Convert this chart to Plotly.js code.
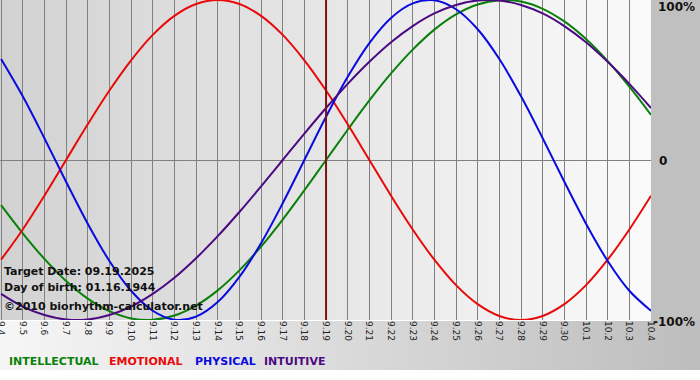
<!DOCTYPE html>
<html>
<head>
<meta charset="utf-8">
<script src="https://cdn.plot.ly/plotly-3.0.1.min.js"></script>
<style>
  html, body { margin: 0; padding: 0; background: #ffffff; }
  #chart {
    width: 700px; height: 380px;
    background:
      linear-gradient(to right, #d2d2d2, #fafafa) 0 0 / 651px 320px no-repeat,
      linear-gradient(#c0c0c0, #c0c0c0) 651px 0 / 49px 321px no-repeat,
      linear-gradient(to right, #f6f6f6, #bdbdbd) 0 321px / 700px 49px no-repeat,
      #ffffff;
  }
</style>
</head>
<body>
<div id="chart"></div>
<script>
// Day labels (month.day)
const dayLabels = ["9.4","9.5","9.6","9.7","9.8","9.9","9.10","9.11","9.12","9.13","9.14","9.15","9.16","9.17","9.18","9.19","9.20","9.21","9.22","9.23","9.24","9.25","9.26","9.27","9.28","9.29","9.30","10.1","10.2","10.3","10.4"];
const targetLabel = "9.19";

// Cycle values (fraction of 100%) read per day
const intellectual = [-0.282,-0.458,-0.618,-0.756,-0.866,-0.945,-0.990,-0.999,-0.972,-0.910,-0.815,-0.690,-0.541,-0.372,-0.189,0,0.189,0.372,0.541,0.690,0.815,0.910,0.972,0.999,0.990,0.945,0.866,0.756,0.618,0.458,0.282];
const emotional    = [-0.623,-0.434,-0.223,0,0.223,0.434,0.623,0.782,0.901,0.975,1,0.975,0.901,0.782,0.623,0.434,0.223,0,-0.223,-0.434,-0.623,-0.782,-0.901,-0.975,-1,-0.975,-0.901,-0.782,-0.623,-0.434,-0.223];
const physical     = [0.631,0.398,0.136,-0.136,-0.398,-0.631,-0.817,-0.942,-0.998,-0.979,-0.888,-0.731,-0.520,-0.270,0,0.270,0.520,0.731,0.888,0.979,0.998,0.942,0.817,0.631,0.398,0.136,-0.136,-0.398,-0.631,-0.817,-0.942];
const intuitive    = [-0.837,-0.916,-0.969,-0.997,-0.997,-0.969,-0.916,-0.837,-0.736,-0.614,-0.476,-0.325,-0.165,0,0.165,0.325,0.476,0.614,0.736,0.837,0.916,0.969,0.997,0.997,0.969,0.916,0.837,0.736,0.614,0.476,0.325];

const seriesNames = ["INTELLECTUAL","EMOTIONAL","PHYSICAL","INTUITIVE"];
const yTickVals = [-1, 0, 1];
const yTickText = ["-100%", "0", "100%"];
const infoLines = ["Target Date: 09.19.2025", "Day of birth: 01.16.1944", "\u00a92010 biorhythm-calculator.net"];

const colors = ["#0a800a", "#e80a0a", "#0a0ae0", "#4b0a82"];
const idx = dayLabels.map((_, i) => i);
const allSeries = [intellectual, emotional, physical, intuitive];

const traces = allSeries.map((s, k) => ({
  x: idx, y: s, type: "scatter", mode: "lines", name: seriesNames[k],
  line: { color: colors[k], width: 2, shape: "spline", smoothing: 1 },
  hoverinfo: "skip"
}));

const targetIdx = dayLabels.indexOf(targetLabel);
const font = "DejaVu Sans, Verdana, sans-serif";

const annotations = [];
// info lines
const infoY = [271, 287, 306];
infoLines.forEach((t, i) => annotations.push({
  text: t, xref: "paper", yref: "paper", x: 0, xshift: 2, xanchor: "left",
  y: (320 - infoY[i]) / 320, yanchor: "middle", showarrow: false,
  font: { family: font, size: 11, color: "#111111", weight: "bold" }
}));
// legend words
const legX = [7, 107, 193, 262];
seriesNames.forEach((n, i) => annotations.push({
  text: n, xref: "paper", yref: "paper", x: legX[i] / 651, xanchor: "left",
  y: (320 - 361) / 320, yanchor: "middle", showarrow: false,
  font: { family: font, size: 11, color: colors[i], weight: "bold" }
}));
// right-side percentage labels
yTickVals.forEach((v, i) => {
  const isZero = v === 0;
  annotations.push({
    text: yTickText[i], xref: "paper", yref: "y", x: 1,
    xanchor: isZero ? "left" : "right", xshift: isZero ? 6 : 46,
    y: v, yanchor: "middle", yshift: v === 1 ? -7 : (v === -1 ? -2 : -1),
    showarrow: false,
    font: { family: font, size: 12, color: "#111111", weight: "bold" }
  });
});

const layout = {
  width: 700, height: 380,
  margin: { l: 0, r: 49, t: 0, b: 60, pad: 0 },
  paper_bgcolor: "rgba(0,0,0,0)",
  plot_bgcolor: "rgba(0,0,0,0)",
  showlegend: false,
  xaxis: {
    range: [-0.05, 30], tickmode: "array", tickvals: idx, ticktext: dayLabels,
    tickangle: 90, tickfont: { family: font, size: 9, color: "#222222" },
    ticklabeloverflow: "allow",
    showgrid: true, gridcolor: "#808080", gridwidth: 1,
    zeroline: false, showline: false, ticks: "", fixedrange: true
  },
  yaxis: {
    range: [-1, 1], tickmode: "array", tickvals: yTickVals, showticklabels: false,
    showgrid: true, gridcolor: "#808080", gridwidth: 1,
    zeroline: false, showline: false, ticks: "", fixedrange: true
  },
  shapes: [{
    type: "line", xref: "x", yref: "paper", x0: targetIdx, x1: targetIdx, y0: 0, y1: 1,
    line: { color: "#7a1414", width: 2 }
  }],
  annotations: annotations
};

Plotly.newPlot("chart", traces, layout, { displayModeBar: false, staticPlot: true });
</script>
</body>
</html>
